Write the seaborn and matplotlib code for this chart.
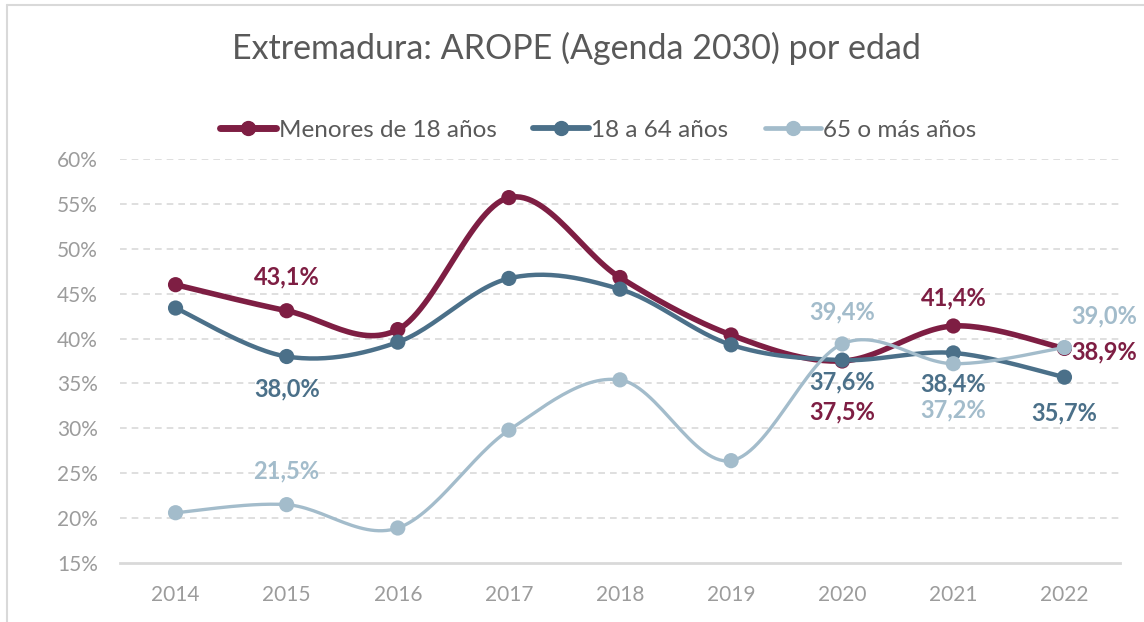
import numpy as np
import pandas as pd
import seaborn as sns
import matplotlib.pyplot as plt
from matplotlib.lines import Line2D

# data
years = ["2014", "2015", "2016", "2017", "2018", "2019", "2020", "2021", "2022"]
menores = [46.0, 43.1, 41.0, 55.7, 46.8, 40.4, 37.5, 41.4, 38.9]
adultos = [43.4, 38.0, 39.6, 46.7, 45.5, 39.3, 37.6, 38.4, 35.7]
mayores = [20.6, 21.5, 18.9, 29.8, 35.4, 26.4, 39.4, 37.2, 39.0]
series_names = ["Menores de 18 años", "18 a 64 años", "65 o más años"]

colors = ["#7E1E43", "#4B7089", "#A3BCCB"]
widths = [4.0, 3.2, 2.4]

df = pd.DataFrame({"year": years * 3,
                   "value": menores + adultos + mayores,
                   "serie": np.repeat(series_names, len(years))})
df["x"] = df.groupby("serie").cumcount()


def smooth(x, y, n=30):
    # Catmull-Rom style bezier, like Excel's "smoothed line"
    x = np.asarray(x, float)
    y = np.asarray(y, float)
    px = np.concatenate([[x[0]], x, [x[-1]]])
    py = np.concatenate([[y[0]], y, [y[-1]]])
    out_x, out_y = [], []
    t = np.linspace(0, 1, n)
    for i in range(1, len(px) - 2):
        p0 = np.array([px[i], py[i]])
        p3 = np.array([px[i + 1], py[i + 1]])
        c1 = p0 + (np.array([px[i + 1], py[i + 1]]) - np.array([px[i - 1], py[i - 1]])) / 6
        c2 = p3 - (np.array([px[i + 2], py[i + 2]]) - np.array([px[i], py[i]])) / 6
        b = ((1 - t) ** 3)[:, None] * p0 + (3 * (1 - t) ** 2 * t)[:, None] * c1 \
            + (3 * (1 - t) * t ** 2)[:, None] * c2 + (t ** 3)[:, None] * p3
        out_x.extend(b[:, 0])
        out_y.extend(b[:, 1])
    return out_x, out_y


sns.set_theme(style="white")
plt.rcParams["font.family"] = ["Lato", "DejaVu Sans"]

fig = plt.figure(figsize=(11.44, 6.22), dpi=100)
ax = fig.add_axes([120 / 1144, 1 - 563 / 622, 1000 / 1144, 404 / 622])

for i, name in enumerate(series_names):
    sub = df[df["serie"] == name]
    sx, sy = smooth(sub["x"], sub["value"])
    ax.plot(sx, sy, color=colors[i], lw=widths[i], solid_capstyle="round", zorder=3 + i)
    sns.scatterplot(data=sub, x="x", y="value", color=colors[i], s=120,
                    edgecolor="none", ax=ax, zorder=3.5 + i, legend=False)

ax.set_xlim(-0.5, 8.5)
ax.set_ylim(15, 60)
ax.set_yticks(range(15, 61, 5))
ax.set_yticklabels([f"{v}%" for v in range(15, 61, 5)])
ax.set_xticks(range(len(years)))
ax.set_xticklabels(years)
ax.tick_params(axis="y", colors="#9C9C9C", labelsize=15, length=0, pad=16)
ax.tick_params(axis="x", colors="#9C9C9C", labelsize=15, length=0, pad=16)
ax.set_xlabel("")
ax.set_ylabel("")

for v in range(20, 61, 5):
    ax.axhline(v, color="#D9D9D9", lw=1.2, ls=(0, (4, 3)), zorder=1)
for s in ["top", "right", "left"]:
    ax.spines[s].set_visible(False)
ax.spines["bottom"].set_color("#D9D9D9")
ax.spines["bottom"].set_linewidth(2)

# data labels: (series index, x index, offset in px, y up)
labels = [
    (0, 1, (0, 34)), (1, 1, (0, -32)), (2, 1, (0, 34)),
    (2, 6, (0, 32)), (1, 6, (0, -22)), (0, 6, (0, -51)),
    (0, 7, (0, 28)), (1, 7, (0, -31)), (2, 7, (0, -46)),
    (2, 8, (40, 32)), (0, 8, (40, -3)), (1, 8, (0, -36)),
]
vals = [menores, adultos, mayores]
for si, xi, off in labels:
    v = vals[si][xi]
    ax.annotate(f"{v:.1f}%".replace(".", ","), (xi, v), xytext=(off[0] * 0.72, off[1] * 0.72),
                textcoords="offset points", ha="center", va="center",
                color=colors[si], fontsize=17, fontweight="bold", zorder=10)

fig.text(0.504, 1 - 48 / 622, "Extremadura: AROPE (Agenda 2030) por edad",
         ha="center", va="center", fontsize=24.5, color="#595959")

handles = [Line2D([], [], color=c, lw=w + 1, marker="o", markersize=10) for c, w in zip(colors, widths)]
fig.legend(handles, series_names, loc="center", bbox_to_anchor=(0.523, 1 - 130 / 622),
           ncol=3, frameon=False, fontsize=17.5, handlelength=2.3, handletextpad=0.1,
           columnspacing=1.5, labelcolor="#595959")

# outer chart border (top and left visible)
fig.add_artist(Line2D([7 / 1144, 7 / 1144], [0, 1 - 5 / 622], color="#D9D9D9", lw=1.5))
fig.add_artist(Line2D([7 / 1144, 1], [1 - 5 / 622, 1 - 5 / 622], color="#D9D9D9", lw=1.5))

fig.savefig("out.png", dpi=100, facecolor="white")
